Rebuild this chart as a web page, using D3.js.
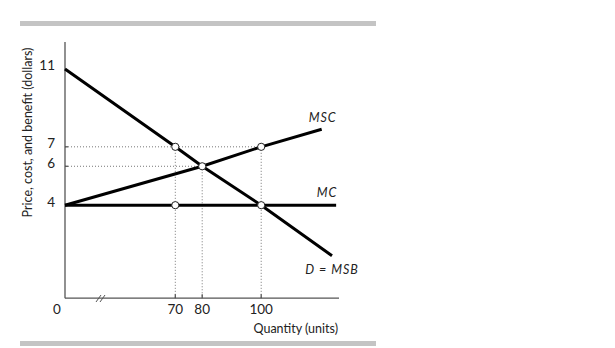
<!DOCTYPE html>
<html><head><meta charset="utf-8">
<script src="https://cdn.jsdelivr.net/npm/d3@7"></script>
<style>body{margin:0;background:#fff}svg{display:block}text{font-family:Lato,"Noto Sans",sans-serif;fill:#222}</style>
</head><body>
<svg id="c" width="615" height="348"></svg>
<script>
// ---- data ----
const quantityTicks = [70, 80, 100];
const priceTicks = [4, 6, 7, 11];
const msbCurve = [[0, 11], [70, 7], [80, 6], [100, 4], [124, 1.4]];
const mscCurve = [[0, 4], [80, 6], [100, 7], [120.5, 7.9]];
const mcCurve = [[0, 4], [125.4, 4]];
const keyPoints = [[70, 7], [80, 6], [100, 7], [70, 4], [100, 4]];
const guideH = [[7, 100], [6, 80]];          // [price, up to quantity]
const guideV = [[70, 7], [80, 6], [100, 7]];  // [quantity, from price]
const curveLabels = ["MSC", "MC", "D = MSB"];
const xTitle = "Quantity (units)";
const yTitle = "Price, cost, and benefit (dollars)";

// ---- layout ----
const svg = d3.select("#c");
const x = d3.scaleLinear().domain([0, 70, 80, 100]).range([65, 175.3, 202.2, 261.2]);
const y = d3.scaleLinear().domain([0, 11]).range([283, 69]);
const axisBottomVal = -0.78, axisTopY = 42, axisRightX = 339;
const yb = y(axisBottomVal);

// gray rules
svg.append("rect").attr("x", 20).attr("y", 21).attr("width", 356).attr("height", 5).attr("fill", "#c4c4c4");
svg.append("rect").attr("x", 20).attr("y", 341).attr("width", 356).attr("height", 5).attr("fill", "#c4c4c4");

// guides
const g = svg.append("g").attr("stroke", "#777").attr("stroke-width", 1).attr("stroke-dasharray", "1,2").attr("fill", "none");
guideH.forEach(([p, q]) => g.append("line").attr("x1", x(0)).attr("x2", x(q)).attr("y1", y(p)).attr("y2", y(p)));
guideV.forEach(([q, p]) => g.append("line").attr("x1", x(q)).attr("x2", x(q)).attr("y1", y(p)).attr("y2", yb));

// axes
const ax = svg.append("g").attr("stroke", "#555").attr("stroke-width", 1.3).attr("fill", "none");
ax.append("line").attr("x1", x(0)).attr("x2", x(0)).attr("y1", axisTopY).attr("y2", yb);
ax.append("line").attr("x1", x(0)).attr("x2", axisRightX).attr("y1", yb).attr("y2", yb);
quantityTicks.forEach(q => ax.append("line").attr("x1", x(q)).attr("x2", x(q)).attr("y1", yb).attr("y2", yb - 4));
[6, 7].forEach(p => ax.append("line").attr("x1", x(0)).attr("x2", x(0) + 3).attr("y1", y(p)).attr("y2", y(p)));
// axis break mark
[0, 4].forEach(d => ax.append("line").attr("x1", 96 + d).attr("y1", 302).attr("x2", 101 + d).attr("y2", 295).attr("stroke-width", 1));

// curves
const line = d3.line().x(d => x(d[0])).y(d => y(d[1]));
[msbCurve, mscCurve, mcCurve].forEach(c =>
  svg.append("path").attr("d", line(c)).attr("fill", "none").attr("stroke", "#000").attr("stroke-width", 3));

// points
svg.selectAll("circle.k").data(keyPoints).join("circle").attr("class", "k")
  .attr("cx", d => x(d[0])).attr("cy", d => y(d[1])).attr("r", 3.6)
  .attr("fill", "#fff").attr("stroke", "#222").attr("stroke-width", 1);

// tick labels
svg.selectAll("text.yt").data(priceTicks).join("text").attr("class", "yt")
  .attr("x", 55).attr("y", d => y(d) - 2).attr("text-anchor", "end").attr("dominant-baseline", "middle")
  .attr("font-size", 13.5).text(d => d);
svg.selectAll("text.xt").data([0, ...quantityTicks]).join("text").attr("class", "xt")
  .attr("x", d => d === 0 ? 57 : x(d)).attr("y", 314).attr("text-anchor", "middle")
  .attr("font-size", 13.5).text(d => d);

// titles
svg.append("text").attr("x", 338).attr("y", 333).attr("text-anchor", "end").attr("font-size", 12.5).text(xTitle);
svg.append("text").attr("transform", `translate(32,${(43 + 222) / 2}) rotate(-90)`)
  .attr("text-anchor", "middle").attr("font-size", 12.5).text(yTitle);

// curve labels
const ends = [mscCurve[mscCurve.length - 1], mcCurve[mcCurve.length - 1], msbCurve[msbCurve.length - 1]];
const offs = [[1, -10], [-9, -11], [0, 15]];
curveLabels.forEach((t, i) => svg.append("text")
  .attr("x", x(ends[i][0]) + offs[i][0]).attr("y", y(ends[i][1]) + offs[i][1])
  .attr("text-anchor", "middle").attr("dominant-baseline", "middle")
  .attr("font-size", 12.5).attr("font-style", "italic").attr("letter-spacing", 1).text(t));
</script>
</body></html>
